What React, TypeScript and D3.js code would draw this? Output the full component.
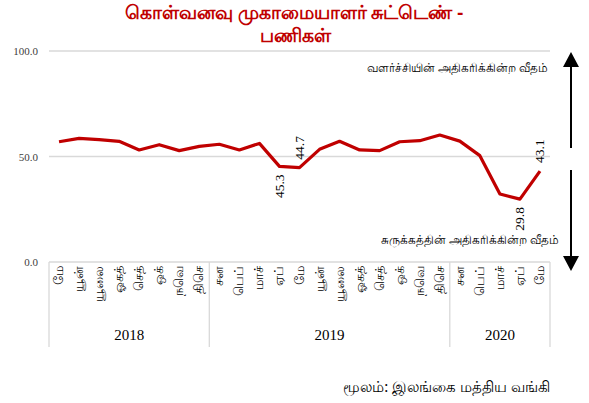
import React from "react";
import * as d3 from "d3";

const months = ["மே","யூன்","யூலை","ஓகத்","செத்","ஒக்","நவெ","திசெ","சன","பெப்","மாச்","ஏப்","மே","யூன்","யூலை","ஓகத்","செத்","ஒக்","நவெ","திசெ","சன","பெப்","மாச்","ஏப்","மே"];
const values = [57.0,58.6,58.0,57.2,53.1,55.6,52.8,54.8,55.8,53.1,56.2,45.3,44.7,53.4,57.2,53.1,52.8,57.0,57.5,60.2,57.3,50.4,32.2,29.8,43.1];
const years = [{ label: "2018", from: 0, to: 8 }, { label: "2019", from: 8, to: 20 }, { label: "2020", from: 20, to: 25 }];
const yTicks = [0, 50, 100];
const labelled = [
  { i: 11, pos: "below" },
  { i: 12, pos: "above" },
  { i: 23, pos: "below" },
  { i: 24, pos: "above" },
];
const title1 = "கொள்வனவு முகாமையாளர் சுட்டெண் -";
const title2 = "பணிகள்";
const upText = "வளர்ச்சியின் அதிகரிக்கின்ற வீதம்";
const downText = "சுருக்கத்தின் அதிகரிக்கின்ற வீதம்";
const source = "மூலம்: இலங்கை மத்திய வங்கி";

export default function App() {
  const W = 589, H = 403;
  const left = 49, right = 550, top = 51, bottom = 262;
  const x = d3.scaleBand<number>().domain(d3.range(months.length)).range([left, right]);
  const y = d3.scaleLinear().domain([0, 100]).range([bottom, top]);
  const cx = (i: number) => (x(i) as number) + x.bandwidth() / 2;
  const line = d3.line<number>().x((_, i) => cx(i)).y((d) => y(d));
  const serif = "'Liberation Serif', 'Times New Roman', serif";
  const tamil = "'Noto Sans', sans-serif";
  const sep = [0, 8, 20, 25].map((i) => i === 25 ? right : (x(i) as number));
  return (
    <svg width={W} height={H} style={{ position: "absolute", left: 0, top: 0, background: "#fff" }}>
      <text x={294} y={19} textAnchor="middle" fill="#c00000" fontWeight="bold" fontSize={18.5} fontFamily={tamil}>{title1}</text>
      <text x={295} y={42} textAnchor="middle" fill="#c00000" fontWeight="bold" fontSize={18.5} fontFamily={tamil}>{title2}</text>
      {yTicks.map((t) => (
        <g key={t}>
          {t > 0 && <line x1={left} x2={right} y1={y(t)} y2={y(t)} stroke="#d9d9d9" strokeWidth={1.3} />}
          <text x={38} y={y(t) + 4} textAnchor="end" fontSize={11} fontFamily={serif} fill="#404040">{t.toFixed(1)}</text>
        </g>
      ))}
      <line x1={left} x2={right} y1={bottom} y2={bottom} stroke="#d9d9d9" strokeWidth={1.3} />
      {sep.map((s, k) => (
        <line key={k} x1={s} x2={s} y1={bottom} y2={347} stroke="#d9d9d9" strokeWidth={1.3} />
      ))}
      {months.map((m, i) => (
        <text key={i} transform={`translate(${cx(i) + 4},${bottom + 4}) rotate(-90)`} textAnchor="end" fontSize={12.5} fill="#000" fontFamily={tamil}>{m}</text>
      ))}
      {years.map((yr) => (
        <text key={yr.label} x={((x(yr.from) as number) + (yr.to === 25 ? right : (x(yr.to) as number))) / 2} y={340} textAnchor="middle" fontSize={15} fontFamily={serif} fill="#000">{yr.label}</text>
      ))}
      <path d={line(values) || ""} fill="none" stroke="#c00000" strokeWidth={3.2} strokeLinejoin="round" />
      {labelled.map(({ i, pos }) => {
        const px = cx(i) + 4.5;
        const py = pos === "below" ? y(values[i]) + 8 : y(values[i]) - 8;
        return (
          <text key={i} transform={`translate(${px},${py}) rotate(-90)`} textAnchor={pos === "below" ? "end" : "start"} fontSize={13.5} fontFamily={serif} fill="#000">{values[i].toFixed(1)}</text>
        );
      })}
      <text x={548} y={72} textAnchor="end" fontSize={11.8} fontFamily={tamil} fill="#000">{upText}</text>
      <text x={559} y={244} textAnchor="end" fontSize={11.8} fontFamily={tamil} fill="#000">{downText}</text>
      <line x1={571} x2={571} y1={64} y2={148} stroke="#000" strokeWidth={2} />
      <path d="M571,52 L579,67 L563,67 Z" fill="#000" />
      <line x1={571} x2={571} y1={170} y2={258} stroke="#000" strokeWidth={2} />
      <path d="M571,271 L579,256 L563,256 Z" fill="#000" />
      <text x={550} y={392} textAnchor="end" fontSize={15} fontFamily={tamil} fill="#000">{source}</text>
    </svg>
  );
}
